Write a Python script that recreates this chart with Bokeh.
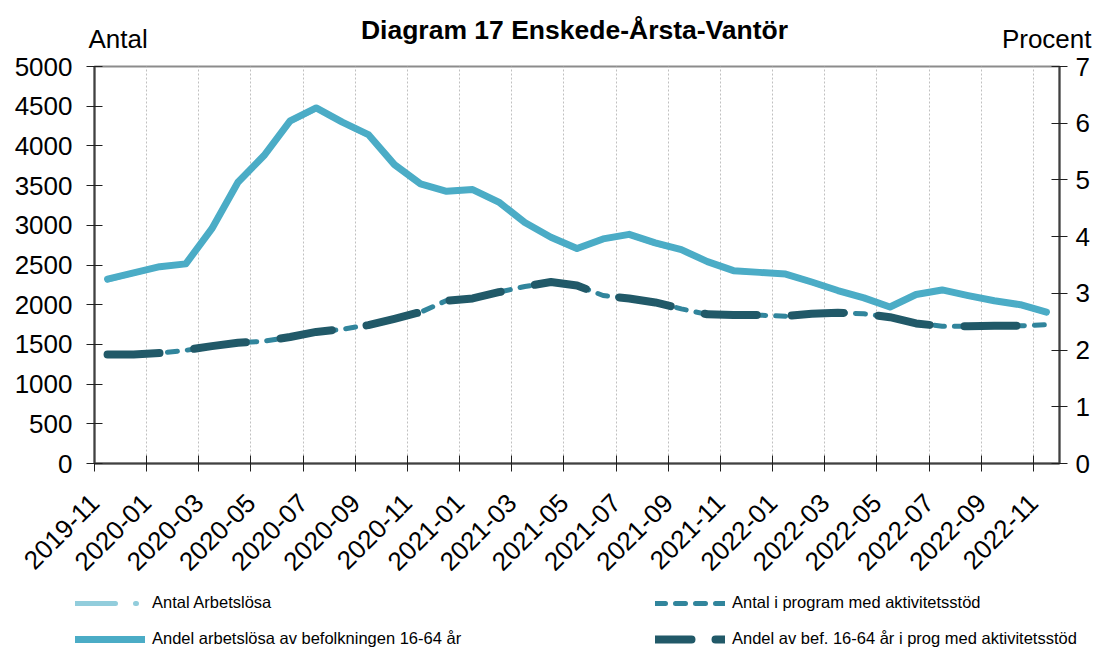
from bokeh.plotting import figure
from bokeh.layouts import column
from bokeh.models import Range1d, LinearAxis, FixedTicker, Legend, LegendItem, Label
from bokeh.embed import file_html
from bokeh.resources import INLINE
import math

months = ["2019-11", "2019-12", "2020-01", "2020-02", "2020-03", "2020-04", "2020-05",
          "2020-06", "2020-07", "2020-08", "2020-09", "2020-10", "2020-11", "2020-12",
          "2021-01", "2021-02", "2021-03", "2021-04", "2021-05", "2021-06", "2021-07",
          "2021-08", "2021-09", "2021-10", "2021-11", "2021-12", "2022-01", "2022-02",
          "2022-03", "2022-04", "2022-05", "2022-06", "2022-07", "2022-08", "2022-09",
          "2022-10", "2022-11"]

antal_arbetslosa = [2310, 2395, 2475, 2510, 2955, 3540, 3875, 4300, 4470, 4290, 4135,
                    3760, 3515, 3425, 3440, 3285, 3035, 2845, 2700, 2825, 2880, 2770,
                    2685, 2540, 2425, 2400, 2380, 2280, 2175, 2085, 1965, 2125, 2185,
                    2110, 2050, 1995, 1900]

antal_program = [1365, 1370, 1390, 1425, 1480, 1520, 1540, 1590, 1655, 1690, 1745,
                 1820, 1905, 2053, 2082, 2158, 2229, 2284, 2242, 2116, 2082, 2032,
                 1948, 1877, 1872, 1868, 1855, 1885, 1902, 1885, 1843, 1767, 1729,
                 1729, 1738, 1734, 1747]

andel_arbetslosa = [3.25, 3.36, 3.47, 3.52, 4.14, 4.96, 5.43, 6.04, 6.27, 6.02, 5.80,
                    5.27, 4.93, 4.80, 4.83, 4.61, 4.25, 3.99, 3.79, 3.96, 4.04, 3.89,
                    3.77, 3.56, 3.40, 3.37, 3.34, 3.20, 3.05, 2.92, 2.76, 2.98, 3.06,
                    2.96, 2.87, 2.80, 2.67]

andel_program = [1.92, 1.92, 1.95, 2.00, 2.07, 2.13, 2.16, 2.23, 2.32, 2.37, 2.44,
                 2.55, 2.67, 2.87, 2.91, 3.02, 3.12, 3.20, 3.14, 2.96, 2.91, 2.84,
                 2.73, 2.63, 2.62, 2.62, 2.60, 2.64, 2.66, 2.64, 2.58, 2.47, 2.42,
                 2.42, 2.43, 2.43, 2.45]

series_names = ["Antal Arbetslösa",
                "Antal i program med aktivitetsstöd",
                "Andel arbetslösa av befolkningen 16-64 år",
                "Andel av bef. 16-64 år i prog med aktivitetsstöd"]

left_ticks = [0, 500, 1000, 1500, 2000, 2500, 3000, 3500, 4000, 4500, 5000]
right_ticks = [0, 1, 2, 3, 4, 5, 6, 7]

title_text = "Diagram 17 Enskede-Årsta-Vantör"
left_title = "Antal"
right_title = "Procent"

n = len(months)
x = [i + 0.5 for i in range(n)]
x_ticks = list(range(0, n, 2))
x_labels = {i: months[i] for i in x_ticks}

FONT = "Liberation Sans"
W = 1100

STYLES = [
    dict(line_color="#92CDDC", line_width=5, line_dash="40 20 1 20", line_cap="round", line_join="round"),
    dict(line_color="#31859C", line_width=5, line_dash="10 10", line_cap="round", line_join="round"),
    dict(line_color="#4BACC6", line_width=7, line_cap="round", line_join="round"),
    dict(line_color="#215968", line_width=8, line_dash="52 35", line_cap="round", line_join="round"),
]
# legend keys: same look, dark key dash shortened as in the original legend
KEY_STYLES = [STYLES[0], STYLES[1], STYLES[2],
              dict(STYLES[3], line_dash="36 24")]


def blank_strip(h):
    f = figure(width=W, height=h, x_range=Range1d(0, W), y_range=Range1d(0, h),
               output_backend="svg", toolbar_location=None,
               x_axis_location=None, y_axis_location=None, min_border=0,
               frame_align=False)
    f.grid.visible = False
    f.outline_line_color = None
    f.background_fill_color = "white"
    f.border_fill_color = "white"
    return f


# ---------- header (title and axis captions) ----------
HDR_H = 52
hdr = blank_strip(HDR_H)
hdr.add_layout(Label(x=574, y=HDR_H - 29, text=title_text, text_align="center",
                     text_baseline="middle", text_font=FONT, text_font_style="bold",
                     text_font_size="26.5px", text_color="black"))
hdr.add_layout(Label(x=88, y=HDR_H - 38, text=left_title, text_align="left",
                     text_baseline="middle", text_font=FONT, text_font_size="26px",
                     text_color="black"))
hdr.add_layout(Label(x=1091, y=HDR_H - 38, text=right_title, text_align="right",
                     text_baseline="middle", text_font=FONT, text_font_size="26px",
                     text_color="black"))

# ---------- main chart ----------
TOP = 66 - HDR_H
BOTTOM = 126
p = figure(width=W, height=TOP + 397 + BOTTOM, x_range=Range1d(0, n), y_range=Range1d(0, 5000),
           output_backend="svg", toolbar_location=None,
           min_border_left=94, min_border_right=W - 94 - 965, min_border_top=TOP,
           min_border_bottom=BOTTOM, frame_align=False)
p.extra_y_ranges = {"pct": Range1d(0, 7)}
p.background_fill_color = "white"
p.border_fill_color = "white"
p.outline_line_color = "#8c8c8c"
p.outline_line_width = 2

p.ygrid.visible = False
p.xgrid.ticker = FixedTicker(ticks=x_ticks)
p.xgrid.grid_line_color = "#c0c0c0"
p.xgrid.grid_line_dash = "2 2"
p.xgrid.grid_line_width = 1


def style_axis(ax):
    ax.axis_line_color = "#404040"
    ax.axis_line_width = 2
    ax.major_tick_line_color = "#202020"
    ax.major_tick_line_width = 1
    ax.major_tick_in = 8
    ax.major_tick_out = 8
    ax.minor_tick_line_color = None
    ax.major_label_text_font = FONT
    ax.major_label_text_font_size = "26px"
    ax.major_label_text_color = "black"


xa = p.xaxis[0]
style_axis(xa)
xa.ticker = FixedTicker(ticks=x_ticks)
xa.major_label_overrides = x_labels
xa.major_label_orientation = math.pi / 4
xa.major_label_standoff = 27

ya = p.yaxis[0]
style_axis(ya)
ya.ticker = FixedTicker(ticks=left_ticks)
ya.major_label_standoff = 14

ra = LinearAxis(y_range_name="pct", ticker=FixedTicker(ticks=right_ticks))
style_axis(ra)
ra.major_label_standoff = 8
p.add_layout(ra, "right")

p.line(x, antal_arbetslosa, **STYLES[0])
p.line(x, antal_program, **STYLES[1])
p.line(x, andel_arbetslosa, y_range_name="pct", **STYLES[2])
p.line(x, andel_program, y_range_name="pct", **STYLES[3])

# ---------- legend strip ----------
LEG_H = 648 - 66 - 397 - BOTTOM
leg = blank_strip(LEG_H)
keys = [leg.line([math.nan], [math.nan], **s) for s in KEY_STYLES]


def make_legend(items, loc):
    lg = Legend(items=items, location=loc, orientation="horizontal")
    lg.glyph_width = 70
    lg.glyph_height = 18
    lg.label_height = 18
    lg.label_width = 503
    lg.label_standoff = 7
    lg.spacing = 0
    lg.padding = 0
    lg.margin = 0
    lg.border_line_alpha = 0
    lg.background_fill_alpha = 0
    lg.label_text_font = FONT
    lg.label_text_font_size = "16.5px"
    lg.label_text_color = "black"
    return lg


# row centres at page y 603 and 639 (strip ends at page y 648)
leg.add_layout(make_legend([LegendItem(label=series_names[0], renderers=[keys[0]]),
                            LegendItem(label=series_names[1], renderers=[keys[1]])],
                           (75, (648 - 603) - 9)))
leg.add_layout(make_legend([LegendItem(label=series_names[2], renderers=[keys[2]]),
                            LegendItem(label=series_names[3], renderers=[keys[3]])],
                           (75, (648 - 639) - 9)))

layout = column(hdr, p, leg, spacing=0)
open("out.html", "w").write(file_html(layout, INLINE))
